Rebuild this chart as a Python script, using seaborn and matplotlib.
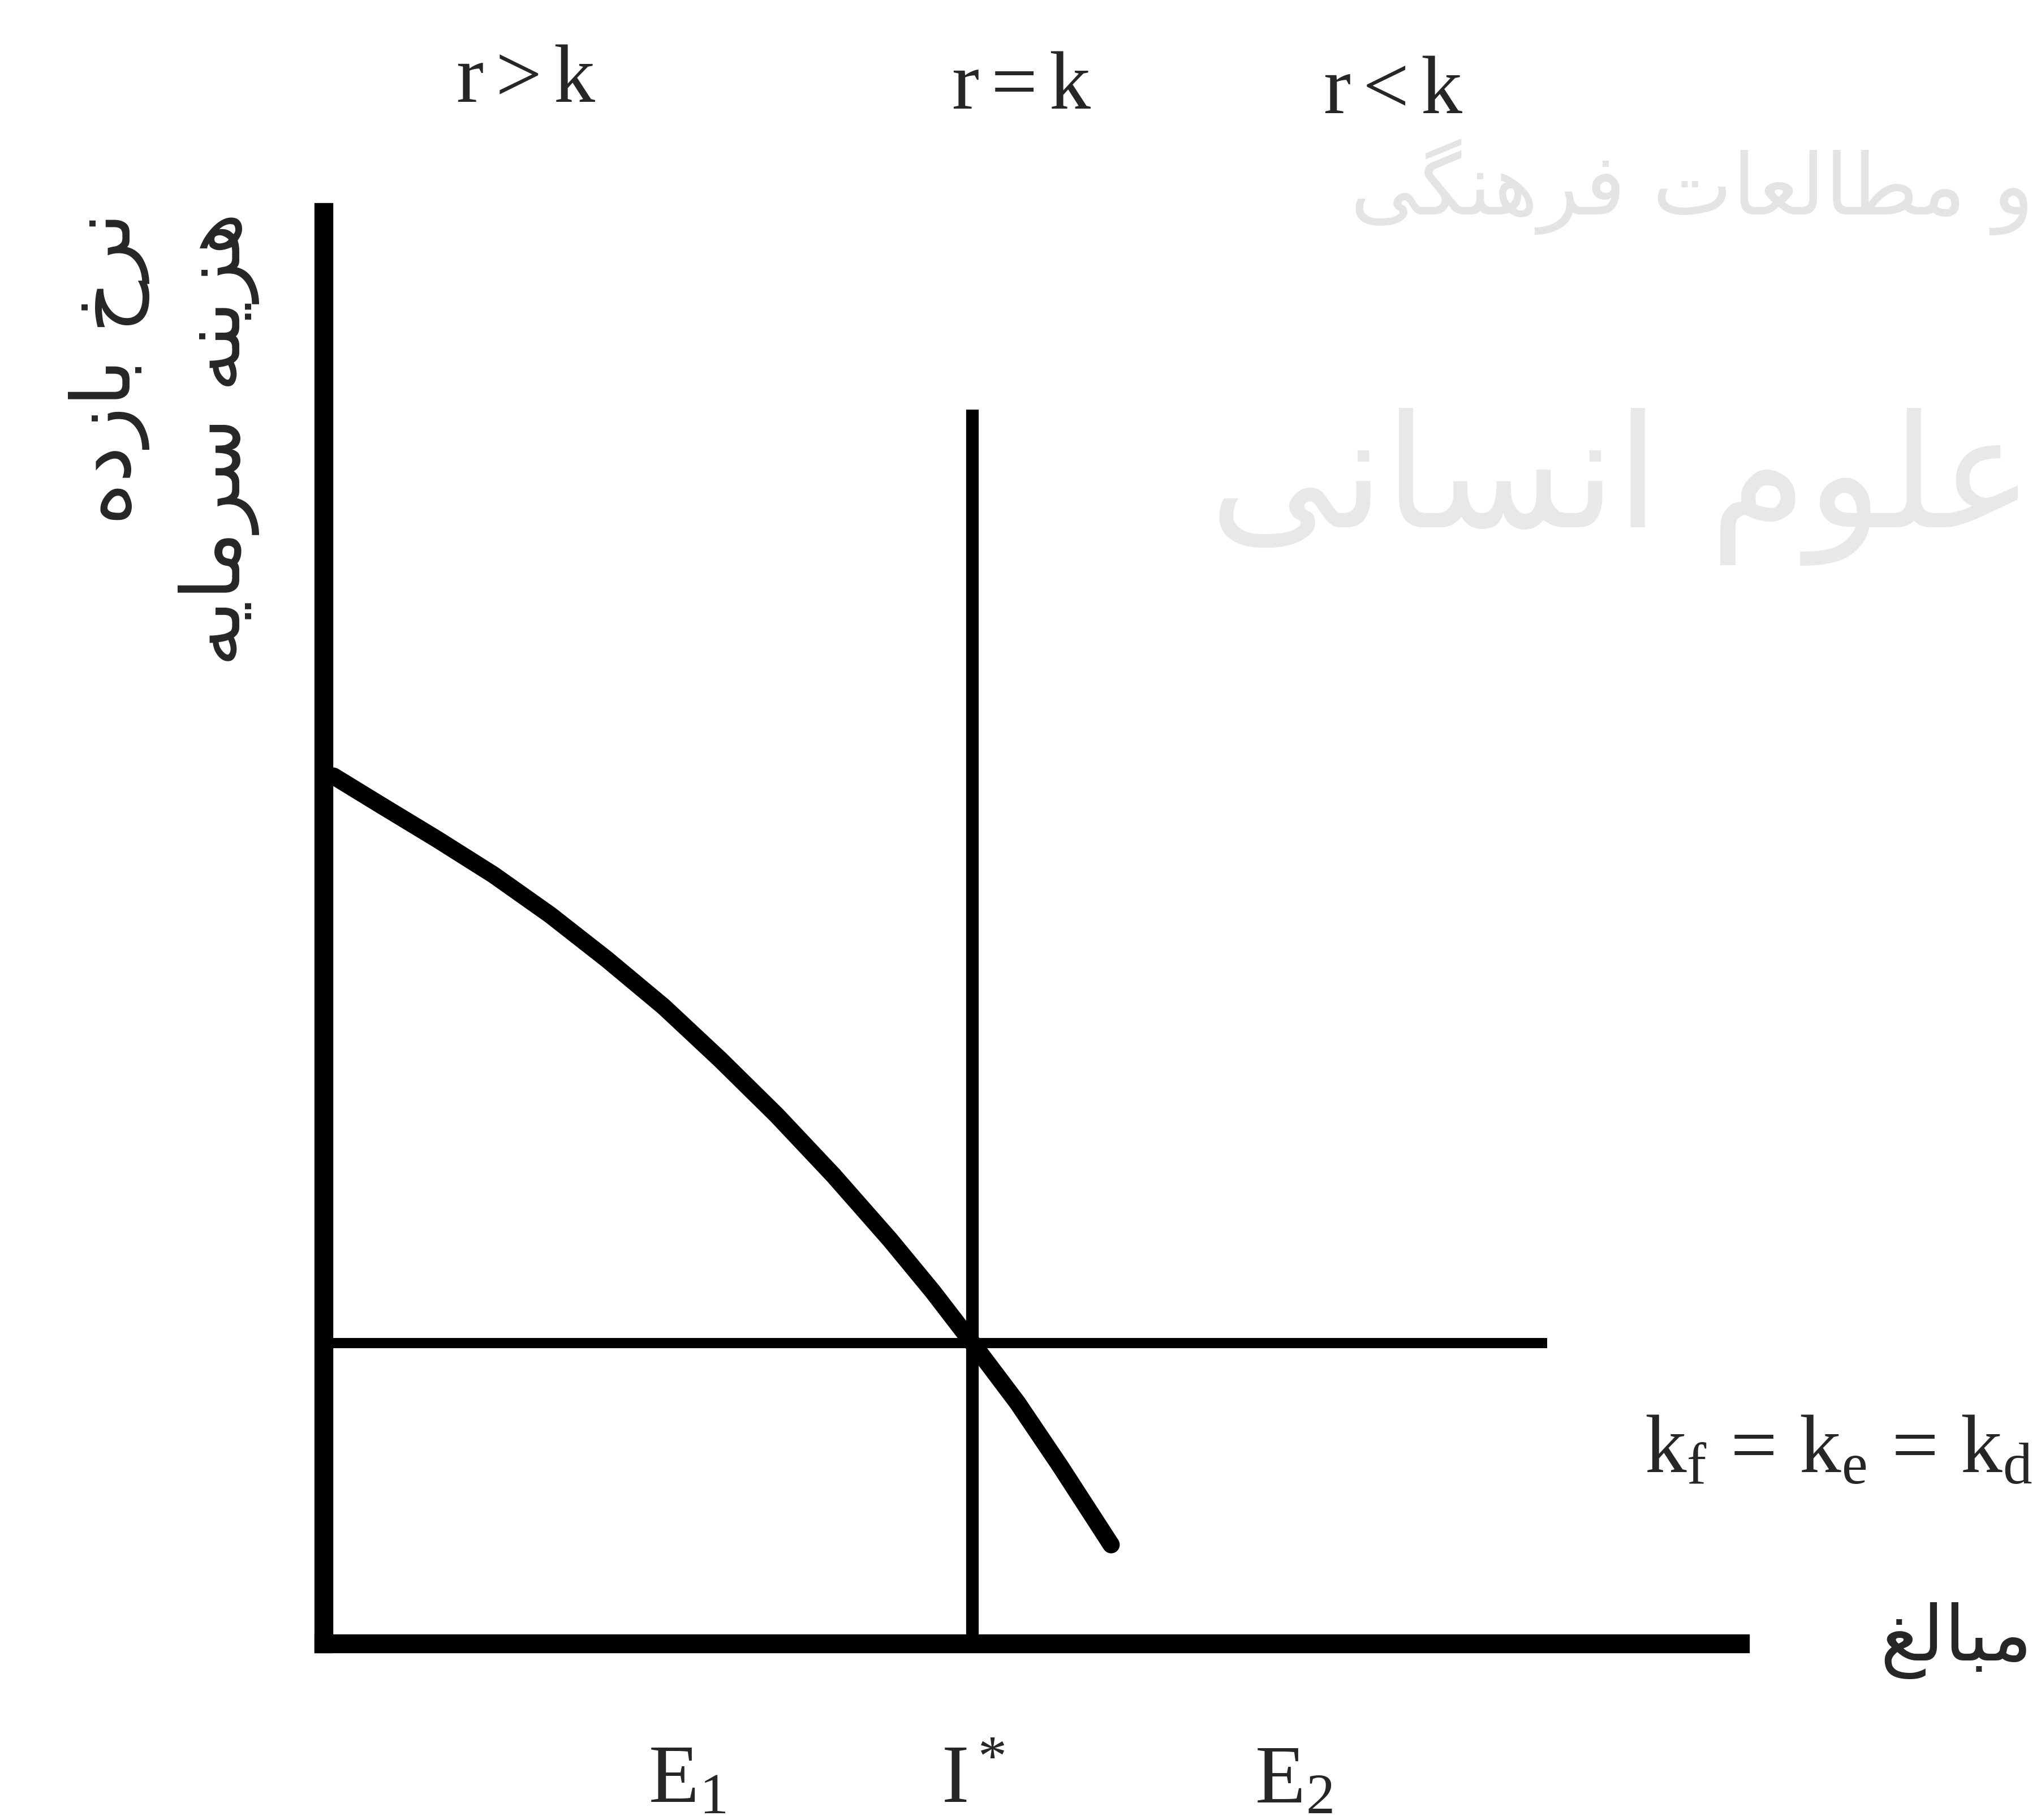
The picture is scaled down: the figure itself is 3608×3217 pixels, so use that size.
import matplotlib
matplotlib.use("Agg")
import matplotlib.pyplot as plt
import seaborn as sns

# marginal efficiency of capital curve (amount, rate)
mec_x = [0.07, 0.40, 0.80, 1.20, 1.60, 2.00, 2.40, 2.80, 3.20, 3.60, 4.00, 4.30, 4.58, 4.90, 5.20, 5.56]
mec_y = [6.06, 5.86, 5.62, 5.37, 5.09, 4.78, 4.45, 4.08, 3.69, 3.27, 2.82, 2.46, 2.10, 1.68, 1.24, 0.69]

# cost of capital k_f = k_e = k_d and the optimal amount I*
k_rate = 2.10
k_end = 8.64
i_star = 4.58
i_top = 8.62

region_labels = [r"$\mathregular{r>k}$", r"$\mathregular{r=k}$", r"$\mathregular{r<k}$"]
amount_labels = [r"$\mathregular{E_1}$", r"$\mathregular{I^*}$", r"$\mathregular{E_2}$"]
cost_label = r"$\mathregular{k_f\,=\,k_e\,=\,k_d}$"

# persian text, arabic presentation forms in logical order (reversed for drawing)
ylab_1 = "\uFEE7\uFEAE\uFEA5 \uFE91\uFE8E\uFEAF\uFEA9\uFEE9"            # nerkh bazdeh
ylab_2 = "\uFEEB\uFEB0\uFEF3\uFEE8\uFEEA \uFEB3\uFEAE\uFEE3\uFE8E\uFEF3\uFEEA"  # hazineh sarmayeh
xlab = "\uFEE3\uFE92\uFE8E\uFEDF\uFECE"                                   # mabalegh
wm_1 = "\uFEED \uFEE3\uFEC4\uFE8E\uFEDF\uFECC\uFE8E\uFE95 \uFED3\uFEAE\uFEEB\uFEE8\uFB95\uFEF0"
wm_2 = "\uFECB\uFEE0\uFEEE\uFEE1 \uFE8D\uFEE7\uFEB4\uFE8E\uFEE7\uFEF0"


def vis(s):
    return s[::-1]


sns.set_style("white")
plt.rcParams["font.family"] = ["Liberation Serif", "DejaVu Sans"]
plt.rcParams["mathtext.fontset"] = "stix"

W, H = 3608, 3217
fig = plt.figure(figsize=(W / 100, H / 100), dpi=100)
fig.patch.set_facecolor("white")

# faint watermark of the scanned page
fig.text(3595 / W, 1 - 330 / H, vis(wm_1), family=["DejaVu Sans"], fontsize=108,
         color="#e4e4e4", ha="right", va="center")
fig.text(3595 / W, 1 - 860 / H, vis(wm_2), family=["DejaVu Sans"], fontsize=200,
         color="#e8e8e8", ha="right", va="center")

ax = fig.add_axes([572 / W, 1 - 2905 / H, (3076 - 572) / W, (2905 - 375) / H])
ax.set_facecolor("none")
ax.set_xlim(0, 10)
ax.set_ylim(0, 10)
ax.set_xticks([])
ax.set_yticks([])
for side in ["top", "right"]:
    ax.spines[side].set_visible(False)
for side in ["left", "bottom"]:
    ax.spines[side].set_color("black")
    ax.spines[side].set_linewidth(24)

sns.lineplot(x=mec_x, y=mec_y, sort=False, color="black", linewidth=22,
             solid_capstyle="round", solid_joinstyle="round", ax=ax, clip_on=False)
ax.vlines(i_star, 0, i_top, color="black", linewidth=16, clip_on=False)
ax.hlines(k_rate, 0, k_end, color="black", linewidth=13, clip_on=False)

# region labels across the top
for lab, px, base in zip(region_labels, [930, 1806, 2463], [180, 192, 200]):
    fig.text(px / W, 1 - base / H, lab, fontsize=105, ha="center", va="baseline")

# amount labels under the axis
for lab, px in zip(amount_labels, [1215, 1720, 2287]):
    fig.text(px / W, 1 - 3186 / H, lab, fontsize=105, ha="center", va="baseline")

fig.text(3592 / W, 1 - 2603 / H, cost_label, fontsize=106, ha="right", va="baseline")
fig.text(3458 / W, 1 - 2900 / H, vis(xlab), family=["DejaVu Sans"], fontsize=98,
         ha="center", va="center")
fig.text(290 / W, 1 - 375 / H, vis(ylab_1) + "\n" + vis(ylab_2), family=["DejaVu Sans"],
         fontsize=104, rotation=90, ha="center", va="top", multialignment="right",
         linespacing=1.45)

fig.savefig("out.png", dpi=100, facecolor="white")
